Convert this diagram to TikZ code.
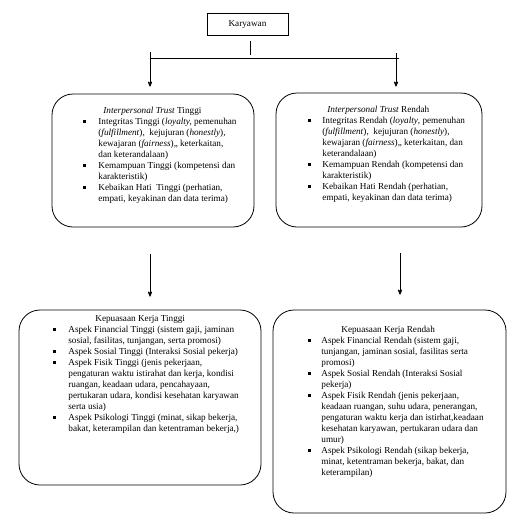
\documentclass[tikz,border=0pt]{standalone}
\usepackage{fontspec}
\setmainfont{Liberation Serif}
\usetikzlibrary{arrows}

\newcommand{\sq}{\raisebox{1.5pt}{\rule{3pt}{3pt}}}

\begin{document}
\begin{tikzpicture}[x=1pt,y=-1pt,>=stealth',line width=0.8pt,
round box/.style={draw,rounded corners=21pt,inner sep=0pt},
top box/.style={draw,inner sep=0pt,minimum width=81pt,minimum height=22pt,font=\fontsize{9.2}{11}\selectfont},
list text/.style={anchor=base west,inner sep=0pt,align=left,font=\fontsize{9.2}{11}\selectfont}]
\useasboundingbox (0,0) rectangle (515,525);

\node[top box] (kar) at (247.5,24) {Karyawan};

% boxes
\node[round box,minimum width=202pt,minimum height=133pt] (tl) at (153,160.5) {};
\node[round box,minimum width=206pt,minimum height=134pt] (tr) at (379,160) {};
\node[round box,minimum width=242pt,minimum height=175pt] (bl) at (140,397.5) {};
\node[round box,minimum width=233pt,minimum height=203pt] (br) at (389.5,411.5) {};

% texts
\node[list text] (tltext) at (83,113) {\begin{tabular}[t]{@{}p{15pt}@{}l@{}}
\multicolumn{2}{@{\hspace{20pt}}l@{}}{\textit{Interpersonal Trust} Tinggi}\\
\sq & Integritas Tinggi (\textit{loyalty,} pemenuhan\\
 & (\textit{fulfillment}),\ \ kejujuran (\textit{honestly}),\\
 & kewajaran (\textit{fairness}),, keterkaitan,\\
 & dan keterandalaan)\\
\sq & Kemampuan Tinggi (kompetensi dan\\
 & karakteristik)\\
\sq & Kebaikan Hati\ \ Tinggi (perhatian,\\
 & empati, keyakinan dan data terima)
\end{tabular}};

\node[list text] (trtext) at (308,112) {\begin{tabular}[t]{@{}p{14pt}@{}l@{}}
\multicolumn{2}{@{\hspace{19pt}}l@{}}{\textit{Interpersonal Trust} Rendah}\\
\sq & Integritas Rendah (\textit{loyalty}, pemenuhan\\
 & (\textit{fulfillment}),\ \ kejujuran (\textit{honestly}),\\
 & kewajaran (\textit{fairness}),, keterkaitan, dan\\
 & keterandalaan)\\
\sq & Kemampuan Rendah (kompetensi dan\\
 & karakteristik)\\
\sq & Kebaikan Hati Rendah (perhatian,\\
 & empati, keyakinan dan data terima)
\end{tabular}};

\node[list text] (bltext) at (53,321) {\begin{tabular}[t]{@{}p{15pt}@{}l@{}}
\multicolumn{2}{@{\hspace{42pt}}l@{}}{Kepuasaan Kerja Tinggi}\\
\sq & Aspek Financial Tinggi (sistem gaji, jaminan\\
 & sosial, fasilitas, tunjangan, serta promosi)\\
\sq & Aspek Sosial Tinggi (Interaksi Sosial pekerja)\\
\sq & Aspek Fisik Tinggi (jenis pekerjaan,\\
 & pengaturan waktu istirahat dan kerja, kondisi\\
 & ruangan, keadaan udara, pencahayaan,\\
 & pertukaran udara, kondisi kesehatan karyawan\\
 & serta usia)\\
\sq & Aspek Psikologi Tinggi (minat, sikap bekerja,\\
 & bakat, keterampilan dan ketentraman bekerja,)
\end{tabular}};

\node[list text] (brtext) at (308,332) {\begin{tabular}[t]{@{}p{13pt}@{}l@{}}
\multicolumn{2}{@{\hspace{33pt}}l@{}}{Kepuasaan Kerja Rendah}\\
\sq & Aspek Financial Rendah (sistem gaji,\\
 & tunjangan, jaminan sosial, fasilitas serta\\
 & promosi)\\
\sq & Aspek Sosial Rendah (Interaksi Sosial\\
 & pekerja)\\
\sq & Aspek Fisik Rendah (jenis pekerjaan,\\
 & keadaan ruangan, suhu udara, penerangan,\\
 & pengaturan waktu kerja dan istirhat,keadaan\\
 & kesehatan karyawan, pertukaran udara dan\\
 & umur)\\
\sq & Aspek Psikologi Rendah (sikap bekerja,\\
 & minat, ketentraman bekerja, bakat, dan\\
 & keterampilan)
\end{tabular}};

% connectors
\coordinate (jl) at (150,58);
\coordinate (jr) at (396,58);
\draw (jl) -- ([xshift=3pt]jr);
\draw[shorten <=6pt,shorten >=3pt] ([xshift=2.5pt]kar.south) -- ([xshift=2.5pt]kar.south |- jl);
\draw[->,shorten >=7pt] ([yshift=6pt]jl) -- (jl |- tl.north);
\draw[->,shorten >=6pt] ([yshift=5pt]jr) -- (jr |- tr.north);
\draw[->,shorten <=27pt,shorten >=13pt] (jl |- tl.south) -- (jl |- bl.north);
\draw[->,shorten <=26pt,shorten >=15pt] ([xshift=4pt]jr |- tr.south) -- ([xshift=4pt]jr |- br.north);
\end{tikzpicture}
\end{document}
